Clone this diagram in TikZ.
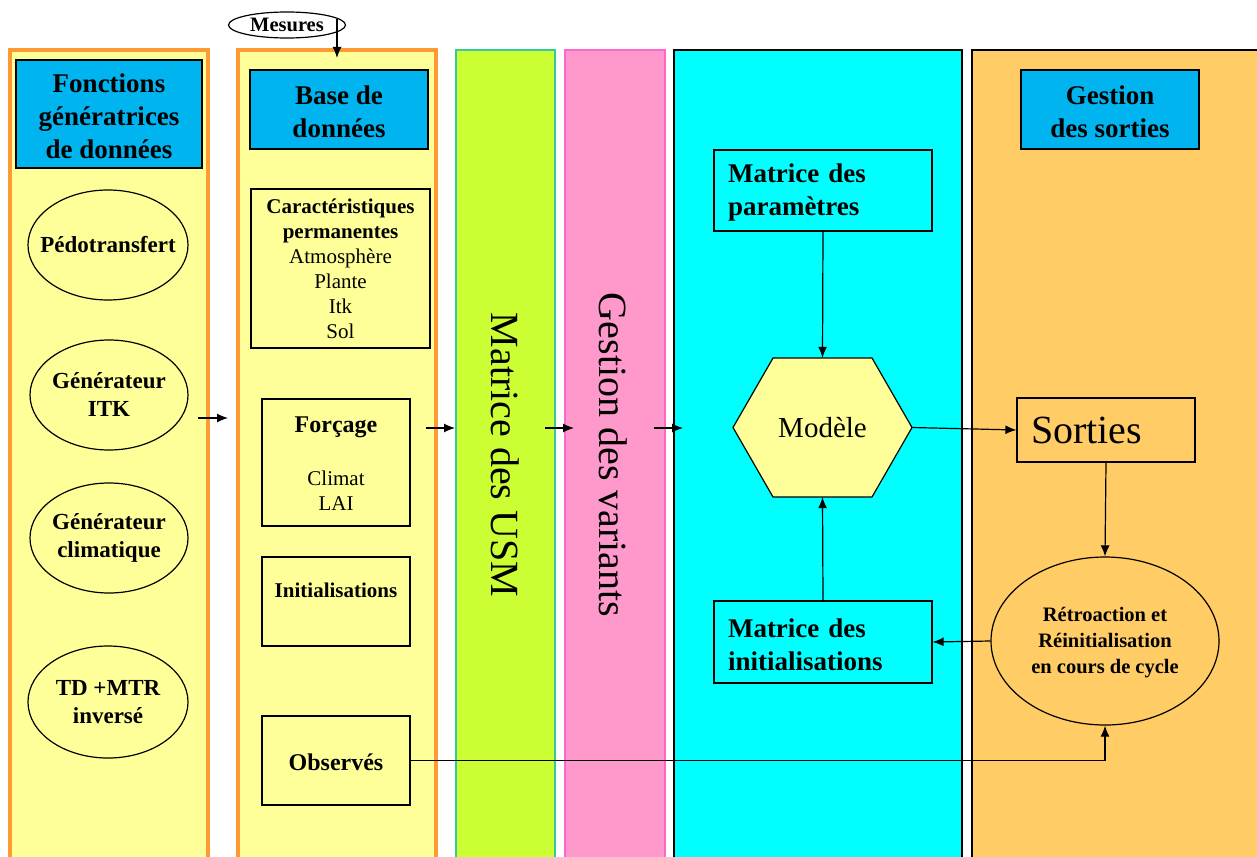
\documentclass[tikz,border=0pt]{standalone}
\usepackage{fontspec}
\setmainfont{Liberation Serif}
\usetikzlibrary{arrows.meta,shapes.geometric,calc}
\definecolor{ly}{HTML}{FFFF99}
\definecolor{ob}{HTML}{FF9933}
\definecolor{hb}{HTML}{00B4F0}
\definecolor{lg}{HTML}{CCFF33}
\definecolor{tg}{HTML}{33CC99}
\definecolor{pk}{HTML}{FF99CC}
\definecolor{pkb}{HTML}{FF66CC}
\definecolor{cy}{HTML}{00FFFF}
\definecolor{og}{HTML}{FFCC66}
\newcommand{\fsz}[2]{\fontsize{#1}{#2}\selectfont}
\begin{document}
\begin{tikzpicture}[x=1pt,y=-1pt,
  hdr/.style={draw=black,line width=1.3pt,fill=hb,font=\bfseries\fsz{27}{33},align=center,inner sep=0pt,minimum width=178pt,minimum height=79pt},
  boxn/.style={draw=black,line width=1.2pt,inner sep=0pt},
  ell/.style={ellipse,draw=black,line width=1.2pt,inner sep=0pt},
  arr/.style={-{Latex[length=11pt,width=9pt]},line width=1.2pt},
  lbl/.style={inner sep=0pt,align=center}]
\useasboundingbox (0,0) rectangle (1257,856);
\clip (0,0) rectangle (1257,856);
\fill[white] (0,0) rectangle (1257,856);
% columns
\draw[fill=ly,draw=ob,line width=3.5pt] (10,50) rectangle (208,880);
\draw[fill=ly,draw=ob,line width=3.5pt] (238,50) rectangle (436,880);
\draw[fill=lg,draw=tg,line width=1.2pt] (456,50) rectangle (555,880);
\draw[fill=pk,draw=pkb,line width=1.2pt] (565,50) rectangle (665,880);
\draw[fill=cy,draw=black,line width=1.2pt] (674,50) rectangle (962,880);
\draw[fill=og,draw=black,line width=1.2pt] (972,50) rectangle (1275,880);
% headers
\node[hdr,minimum width=186pt,minimum height=108pt] (fg) at (109,114) {};
\node[lbl,font=\bfseries\fsz{27}{33}] (fgl) at ($(fg.center)+(0,2.5)$) {Fonctions\\génératrices\\de données};
\node[hdr] (bd) at (339,109.5) {};
\node[lbl,font=\bfseries\fsz{27}{33}] (bdl) at ($(bd.center)+(0,2.5)$) {Base de\\données};
\node[hdr] (gs) at (1110,109.5) {};
\node[lbl,font=\bfseries\fsz{27}{33}] (gsl) at ($(gs.center)+(0,2.5)$) {Gestion\\des sorties};
% column 1 ellipses
\node[ell,minimum width=160pt,minimum height=110pt] (pedo) at (108,245) {};
\node[lbl,font=\bfseries\fsz{23}{28}] (pedol) at (pedo.center) {Pédotransfert};
\node[ell,minimum width=158pt,minimum height=110pt] (itk) at (109,395) {};
\node[lbl,font=\bfseries\fsz{23}{28}] (itkl) at (itk.center) {Générateur\\ITK};
\node[ell,minimum width=158pt,minimum height=110pt] (clim) at (109,538) {};
\node[lbl,font=\bfseries\fsz{23}{28}] (climl) at (clim.center) {Générateur\\climatique};
\node[ell,minimum width=160pt,minimum height=112pt] (td) at (108,702) {};
\node[lbl,font=\bfseries\fsz{23}{28}] (tdl) at (td.center) {TD +MTR\\inversé};
% Mesures
\node[ell,minimum width=117pt,minimum height=26pt] (mes) at (287,25) {};
\node[lbl,font=\bfseries\fsz{20.5}{24}] (mesl) at (mes.center) {Mesures};
\coordinate (mesT) at (337,58);
\draw[arr] ($(mes.north -| mesT)+(0,8)$) -- (mesT);
% column 2 boxes
\node[boxn,minimum width=179pt,minimum height=159pt,align=center,font=\fsz{21}{25}] (car) at (340.5,268.5)
  {\textbf{Caractéristiques}\\\textbf{permanentes}\\Atmosphère\\Plante\\Itk\\Sol};
\node[boxn,minimum width=148pt,minimum height=127pt] (forc) at (336,462.5) {};
\node[lbl,font=\bfseries\fsz{24}{28}] (forcl) at ($(forc.north)+(0,29)$) {Forçage};
\node[lbl,font=\fsz{21}{25}] (climtl) at ($(forc.north)+(0,80)$) {Climat};
\node[lbl,font=\fsz{21}{25}] (lail) at ($(forc.north)+(0,105)$) {LAI};
\node[boxn,minimum width=148pt,minimum height=89pt] (init) at (336,601.5) {};
\node[lbl,font=\bfseries\fsz{21}{25}] (initl) at ($(init.north)+(0,34)$) {Initialisations};
\node[boxn,minimum width=148pt,minimum height=89pt] (obs) at (336,760.5) {};
\node[lbl,font=\bfseries\fsz{24}{28}] (obsl) at ($(obs.center)+(0,2)$) {Observés};
% vertical texts
\node[rotate=-90,font=\fsz{40}{48},inner sep=0pt] (usm) at (505,455) {Matrice des USM};
\node[rotate=-90,font=\fsz{40}{48},inner sep=0pt] (var) at (613,455) {Gestion des variants};
% inter-column arrows
\coordinate (c1a) at (198,418); \coordinate (c1b) at (228,418);
\coordinate (c2a) at (426,428); \coordinate (c2b) at (455,428);
\coordinate (c3a) at (545,428); \coordinate (c3b) at (574,428);
\coordinate (c4a) at (654,428); \coordinate (c4b) at (683,428);
\draw[arr] (c1a) -- (c1b);
\draw[arr] (c2a) -- (c2b);
\draw[arr] (c3a) -- (c3b);
\draw[arr] (c4a) -- (c4b);
% column 5
\node[boxn,minimum height=81pt,text width=190pt,inner xsep=14pt,align=left,font=\bfseries\fsz{27}{33}] (par) at (823,190.5) {};
\node[lbl,text width=190pt,align=left,font=\bfseries\fsz{27}{33}] (parl) at ($(par.center)+(0,2.5)$) {Matrice des\\paramètres};
\coordinate (hc) at (822.5,427.5);
\draw[fill=ly,line width=1.2pt] ($(hc)+(-89.5,0)$) -- ($(hc)+(-49.5,-69.5)$) -- ($(hc)+(49.5,-69.5)$) -- ($(hc)+(89.5,0)$) -- ($(hc)+(49.5,69.5)$) -- ($(hc)+(-49.5,69.5)$) -- cycle;
\node[minimum width=179pt,minimum height=139pt,inner sep=0pt,font=\fsz{29}{34}] (hex) at (hc) {Modèle};
\node[boxn,minimum height=82pt,text width=190pt,inner xsep=14pt] (ini) at (823,642) {};
\node[lbl,text width=190pt,align=left,font=\bfseries\fsz{27}{33}] (inil) at ($(ini.center)+(0,2.5)$) {Matrice des\\initialisations};
% column 6
\node[boxn,minimum height=64pt,text width=150pt,inner xsep=14pt,align=left,font=\fsz{40}{46}] (sor) at (1106,430) {Sorties};
\node[ell,minimum width=228pt,minimum height=168pt] (retro) at (1105,641) {};
\node[lbl,font=\bfseries\fsz{20.5}{26}] (retrol) at ($(retro.center)+(0,2)$) {Rétroaction et\\Réinitialisation\\en cours de cycle};
% connectors
\draw[arr] (par.south) -- (hex.north);
\draw[arr] (ini.north) -- (hex.south);
\draw[arr] (hex.east) -- (sor.west);
\draw[arr] (sor.south) -- (retro.north);
\draw[arr] (retro.west) -- (ini.east);
\draw[arr] (obs.east) -| (retro.south);
\end{tikzpicture}
\end{document}
